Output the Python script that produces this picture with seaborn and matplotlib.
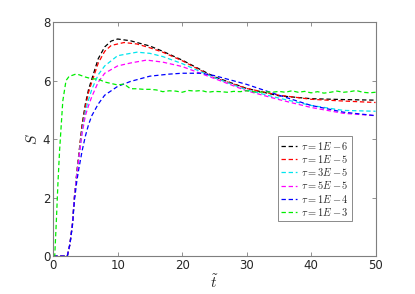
import numpy as np
import pandas as pd
import matplotlib
matplotlib.use("Agg")
import matplotlib.pyplot as plt
import seaborn as sns

# ===============================
# DATA
# ===============================
labels = [r"$\tau = 1E-6$", r"$\tau = 1E-5$", r"$\tau = 3E-5$",
          r"$\tau = 5E-5$", r"$\tau = 1E-4$", r"$\tau = 1E-3$"]
colors = ["#000000", "#ff0000", "#00e5ee", "#ff00ff", "#0000ff", "#00ee00"]

t_1e6 = [0, 2.2, 2.6, 3.0, 3.3, 3.7, 4.0, 4.5, 5.0, 5.5, 6.0, 7.0, 8.0, 9.0, 10.0, 12.0, 15.0, 17.0, 20.0, 25.0, 30.0, 35.0, 40.0, 45.0, 50.0]
s_1e6 = [0, 0.0, 0.4, 1.1, 2.0, 2.9, 3.5, 4.5, 5.2, 5.7, 6.05, 6.75, 7.15, 7.35, 7.42, 7.36, 7.18, 7.0, 6.7, 6.13, 5.73, 5.48, 5.38, 5.35, 5.33]

t_1e5 = [0, 2.2, 2.6, 3.0, 3.3, 3.7, 4.0, 4.5, 5.0, 5.5, 6.0, 7.0, 8.0, 9.0, 11.0, 13.0, 15.0, 17.0, 20.0, 25.0, 30.0, 35.0, 40.0, 45.0, 50.0]
s_1e5 = [0, 0.0, 0.4, 1.1, 2.0, 2.9, 3.5, 4.45, 5.1, 5.6, 5.95, 6.6, 7.0, 7.2, 7.3, 7.25, 7.12, 6.97, 6.68, 6.1, 5.73, 5.5, 5.36, 5.3, 5.25]

t_3e5 = [0, 2.2, 2.6, 3.0, 3.3, 3.7, 4.0, 4.5, 5.0, 5.5, 6.0, 7.0, 8.0, 10.0, 13.0, 15.0, 17.0, 20.0, 25.0, 30.0, 35.0, 40.0, 45.0, 50.0]
s_3e5 = [0, 0.0, 0.4, 1.1, 2.0, 2.85, 3.4, 4.3, 4.95, 5.35, 5.7, 6.2, 6.5, 6.85, 6.97, 6.93, 6.82, 6.58, 6.1, 5.68, 5.4, 5.15, 4.98, 4.95]

t_5e5 = [0, 2.2, 2.6, 3.0, 3.3, 3.7, 4.0, 4.5, 5.0, 5.5, 6.0, 7.0, 8.0, 10.0, 12.0, 14.5, 17.0, 20.0, 25.0, 30.0, 35.0, 40.0, 45.0, 50.0]
s_5e5 = [0, 0.0, 0.4, 1.1, 2.0, 2.8, 3.35, 4.2, 4.8, 5.15, 5.45, 5.95, 6.25, 6.5, 6.6, 6.7, 6.63, 6.48, 6.07, 5.65, 5.35, 5.08, 4.88, 4.8]

t_1e4 = [0, 2.2, 2.6, 3.0, 3.3, 3.7, 4.0, 4.5, 5.0, 5.5, 6.0, 7.0, 8.0, 10.0, 12.0, 15.0, 18.0, 20.0, 23.0, 25.0, 30.0, 35.0, 40.0, 45.0, 50.0]
s_1e4 = [0, 0.0, 0.4, 1.05, 1.9, 2.6, 3.0, 3.6, 4.1, 4.5, 4.8, 5.2, 5.5, 5.8, 5.97, 6.15, 6.22, 6.25, 6.25, 6.17, 5.87, 5.5, 5.15, 4.92, 4.8]

t_1e3 = [0, 0.25, 0.5, 0.75, 1.0, 1.5, 2.0, 2.5, 3.0, 3.5, 4.0, 5.0, 6.0, 7.0, 8.0, 9.0, 10.0, 11.0, 12.0, 13.0, 14.0, 15.0, 16.0, 17.0, 18.0, 19.0, 20.0, 21.0, 22.0, 23.0, 24.0, 25.0, 26.0, 27.0, 28.0, 29.0, 30.0, 31.0, 32.0, 33.0, 34.0, 35.0, 36.0, 37.0, 38.0, 39.0, 40.0, 41.0, 42.0, 43.0, 44.0, 45.0, 46.0, 47.0, 48.0, 49.0, 50.0]
s_1e3 = [0, 0.0, 1.2, 2.5, 3.6, 5.3, 6.0, 6.15, 6.18, 6.22, 6.2, 6.12, 6.06, 6.05, 5.95, 5.9, 5.85, 5.88, 5.72, 5.72, 5.7, 5.7, 5.68, 5.62, 5.65, 5.64, 5.6, 5.66, 5.64, 5.66, 5.6, 5.63, 5.62, 5.6, 5.63, 5.62, 5.65, 5.62, 5.6, 5.62, 5.6, 5.63, 5.6, 5.65, 5.6, 5.63, 5.58, 5.62, 5.57, 5.6, 5.64, 5.6, 5.62, 5.66, 5.6, 5.58, 5.6]

series_t = [t_1e6, t_1e5, t_3e5, t_5e5, t_1e4, t_1e3]
series_s = [s_1e6, s_1e5, s_3e5, s_5e5, s_1e4, s_1e3]

# ===============================
# STYLE
# ===============================
sns.set_style("white")
plt.rcParams["font.family"] = ["DejaVu Sans"]
plt.rcParams["mathtext.fontset"] = "cm"

fig = plt.figure(figsize=(4.15, 2.94), dpi=100)
ax = fig.add_axes([0.128, 0.129, 0.777, 0.796])

for t, s, lab, col in zip(series_t, series_s, labels, colors):
    df = pd.DataFrame({"t": t, "S": s})
    sns.lineplot(data=df, x="t", y="S", ax=ax, color=col, label=lab,
                 linestyle=(0, (3.5, 2.2)), linewidth=0.9)

ax.set_xlim(0, 50)
ax.set_ylim(0, 8)
ax.set_xticks([0, 10, 20, 30, 40, 50])
ax.set_yticks([0, 2, 4, 6, 8])
ax.set_xlabel(r"$\tilde{t}$", fontsize=11, labelpad=1)
ax.set_ylabel(r"$S$", fontsize=11, labelpad=2)

for sp in ax.spines.values():
    sp.set_visible(True)
    sp.set_color("#7f7f7f")
    sp.set_linewidth(0.8)
ax.tick_params(direction="in", length=3, width=0.6, color="#7f7f7f",
               labelsize=8.5, labelcolor="#262626", top=True, right=True,
               bottom=True, left=True, pad=2)

leg = ax.legend(loc="lower right", bbox_to_anchor=(0.927, 0.15),
                fontsize=7.5, frameon=True, fancybox=False,
                handlelength=1.5, handletextpad=0.4, borderpad=0.3,
                labelspacing=0.12, borderaxespad=0)
leg.get_frame().set_edgecolor("#555555")
leg.get_frame().set_linewidth(0.6)

plt.savefig("out.png", dpi=100)
plt.close()
